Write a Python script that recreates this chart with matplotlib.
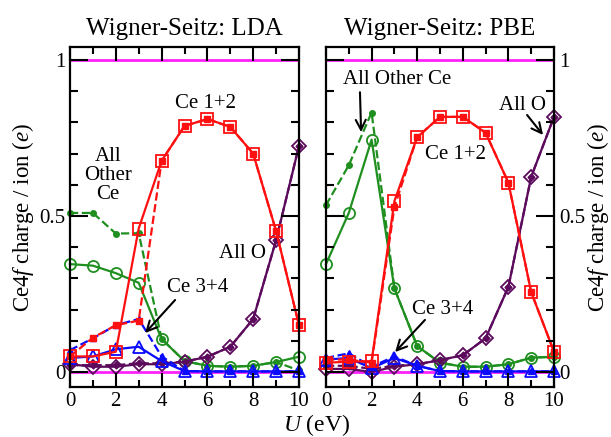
import numpy as np
import matplotlib
matplotlib.use("Agg")
import matplotlib.pyplot as plt
from matplotlib.ticker import MultipleLocator, FixedLocator

plt.rcParams['font.family'] = ['Liberation Serif', 'DejaVu Serif']
plt.rcParams['mathtext.fontset'] = 'custom'
plt.rcParams['mathtext.rm'] = 'Liberation Serif'
plt.rcParams['mathtext.it'] = 'Liberation Serif:italic'

U = np.arange(0, 11)

# LDA panel
lda_ce12 = [0.05, 0.05, 0.065, 0.46, 0.677, 0.789, 0.811, 0.786, 0.70, 0.452, 0.15]
lda_ce12_b = [0.05, 0.11, 0.15, 0.165, 0.677, 0.789, 0.811, 0.786, 0.70, 0.452, 0.15]
lda_ce34 = [0.045, 0.05, 0.073, 0.081, 0.035, 0.003, 0.002, 0.002, 0.002, 0.002, 0.002]
lda_ce34_b = [0.07, 0.108, 0.15, 0.17, 0.05, 0.003, 0.002, 0.002, 0.002, 0.002, 0.002]
lda_other = [0.346, 0.341, 0.317, 0.286, 0.106, 0.035, 0.02, 0.017, 0.02, 0.032, 0.049]
lda_other_b = [0.51, 0.51, 0.444, 0.445, 0.106, 0.035, 0.02, 0.017, 0.02, 0.032, 0.005]
lda_o = [0.025, 0.017, 0.017, 0.025, 0.025, 0.033, 0.049, 0.081, 0.17, 0.423, 0.725]
lda_o_b = [0.022, 0.022, 0.022, 0.028, 0.028, 0.033, 0.049, 0.081, 0.17, 0.423, 0.725]

# PBE panel
pbe_ce12 = [0.03, 0.033, 0.035, 0.548, 0.753, 0.818, 0.818, 0.767, 0.607, 0.256, 0.065]
pbe_ce12_b = [0.04, 0.04, 0.03, 0.529, 0.753, 0.818, 0.818, 0.767, 0.607, 0.256, 0.065]
pbe_ce34 = [0.04, 0.045, 0.012, 0.045, 0.02, 0.003, 0.002, 0.002, 0.002, 0.002, 0.002]
pbe_ce34_b = [0.045, 0.06, 0.017, 0.05, 0.02, 0.003, 0.002, 0.002, 0.002, 0.002, 0.002]
pbe_other = [0.346, 0.51, 0.745, 0.268, 0.083, 0.03, 0.017, 0.017, 0.025, 0.046, 0.049]
pbe_other_b = [0.535, 0.663, 0.832, 0.268, 0.083, 0.03, 0.017, 0.017, 0.025, 0.046, 0.049]
pbe_o = [0.01, 0.01, 0.0, 0.017, 0.025, 0.038, 0.054, 0.108, 0.273, 0.626, 0.818]
pbe_o_b = [0.02, 0.02, 0.01, 0.02, 0.025, 0.038, 0.054, 0.108, 0.273, 0.626, 0.818]

red = '#ff1010'
green = '#1f8f1f'
blue = '#0a0aff'
purple = '#5c0a5c'
magenta = '#ff22ff'

fig = plt.figure(figsize=(6.11, 4.37), dpi=100)
ax1 = fig.add_axes([70/611, 50/437, 229/611, 340/437])
ax2 = fig.add_axes([326/611, 50/437, 228/611, 340/437])


def draw(ax, ce12, ce12b, ce34, ce34b, oth, othb, o, ob):
    ax.plot([0, 10], [1, 1], color=magenta, lw=2, zorder=1)
    ax.plot([0, 10], [0, 0], color=magenta, lw=2, zorder=1)
    series = [(oth, othb, green, 'o'), (o, ob, purple, 'D'),
              (ce34, ce34b, blue, '^'), (ce12, ce12b, red, 's')]
    for a, b, c, m in series:
        ms = 7.5 if m == 'D' else 8
        small = 3.5 if m == 'D' else 4
        ax.plot(U, b, ls='--', color=c, lw=1.6, marker=m, ms=small, clip_on=False)
        ax.plot(U, a, ls='-', color=c, lw=1.6, marker=m, ms=ms, mfc='none',
                mew=1.3, clip_on=False)
    ax.set_xlim(0, 10)
    ax.set_ylim(-0.048, 1.042)
    ax.xaxis.set_major_locator(MultipleLocator(2))
    ax.xaxis.set_minor_locator(MultipleLocator(1))
    ax.yaxis.set_major_locator(FixedLocator([0, 0.5, 1]))
    ax.yaxis.set_minor_locator(MultipleLocator(0.1))
    ax.yaxis.set_major_formatter(plt.FuncFormatter(lambda v, p: '%g' % v))
    ax.tick_params(which='both', direction='in', top=True, right=True,
                   width=1.5, labelsize=15)
    ax.tick_params(axis='x', which='major', length=10)
    ax.tick_params(axis='x', which='minor', length=5)
    ax.tick_params(axis='y', which='major', length=13)
    ax.tick_params(axis='y', which='minor', length=6)
    for s in ax.spines.values():
        s.set_linewidth(1.6)
    ax.set_axisbelow(False)


draw(ax1, lda_ce12, lda_ce12_b, lda_ce34, lda_ce34_b,
     lda_other, lda_other_b, lda_o, lda_o_b)
draw(ax2, pbe_ce12, pbe_ce12_b, pbe_ce34, pbe_ce34_b,
     pbe_other, pbe_other_b, pbe_o, pbe_o_b)

ax2.tick_params(axis='y', which='both', labelleft=False, labelright=True)

ylab = r'Ce$\mathit{4f}$ charge / ion ($\mathit{e}$)'
ax1.set_ylabel(ylab, fontsize=16.5, labelpad=2)
ax2.yaxis.set_label_position('right')
ax2.set_ylabel(ylab, fontsize=16.5, labelpad=0)

ax1.set_title('Wigner-Seitz: LDA', fontsize=18, pad=9)
ax2.set_title('Wigner-Seitz: PBE', fontsize=18, pad=9)

fig.text(317/611, 12/437, r'$\mathit{U}$ (eV)', fontsize=17, ha='center', va='center')

fs = 15
arr = dict(arrowstyle='->', color='black', lw=1.5, mutation_scale=18,
           shrinkA=0, shrinkB=0)

ax1.text(5.9, 0.862, 'Ce 1+2', fontsize=fs, ha='center', va='center')
ax1.text(1.66, 0.631, 'All\nOther\nCe', fontsize=fs, ha='center', va='center',
         linespacing=1.0)
ax1.text(5.59, 0.272, 'Ce 3+4', fontsize=fs, ha='center', va='center')
ax1.annotate('', xy=(3.28, 0.125), xytext=(4.59, 0.231), arrowprops=arr)
ax1.text(7.55, 0.381, 'All O', fontsize=fs, ha='center', va='center')

ax2.text(3.11, 0.939, 'All Other Ce', fontsize=fs, ha='center', va='center')
ax2.annotate('', xy=(1.54, 0.769), xytext=(1.49, 0.897), arrowprops=arr)
ax2.text(5.66, 0.696, 'Ce 1+2', fontsize=fs, ha='center', va='center')
ax2.text(8.64, 0.853, 'All O', fontsize=fs, ha='center', va='center')
ax2.annotate('', xy=(9.52, 0.76), xytext=(8.82, 0.824), arrowprops=arr)
ax2.text(5.13, 0.199, 'Ce 3+4', fontsize=fs, ha='center', va='center')
ax2.annotate('', xy=(3.03, 0.064), xytext=(4.34, 0.167), arrowprops=arr)

fig.savefig('out.png', dpi=100)
